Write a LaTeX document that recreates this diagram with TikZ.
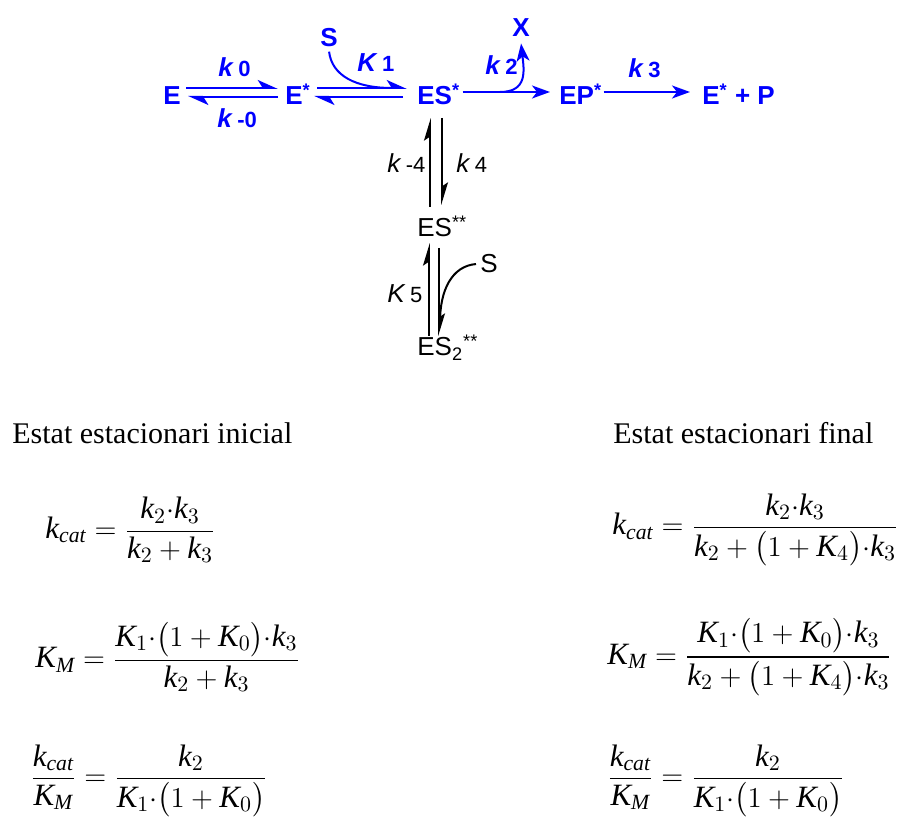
\documentclass[tikz,border=0pt]{standalone}
\usepackage{amsmath}
\usepackage{fontspec}
\setmainfont{Liberation Serif}
\setsansfont{Liberation Sans}
\usepackage{tikz}
\usetikzlibrary{arrows.meta,positioning,calc}
\definecolor{rxnblue}{RGB}{0,0,255}
\newcommand{\vk}{\textit{k}}
\newcommand{\vK}{\textit{K}}
\newcommand{\cat}{\textit{cat}}
\newcommand{\dt}{{\cdot}}
\newcommand{\sml}[1]{{\fontsize{11}{13}\selectfont #1}}

\begin{document}
\begin{tikzpicture}[
  x=0.5pt, y=-0.5pt,
  font=\sffamily\fontsize{13}{15}\selectfont,
  sp/.style={anchor=base west, inner sep=0pt},
  blu/.style={text=rxnblue, font=\sffamily\bfseries\fontsize{13}{15}\selectfont},
  bharp/.style={-{Stealth[harpoon,length=9pt,width=8pt,inset=2.5pt]}},
  kharp/.style={-{Stealth[harpoon,length=10pt,width=6pt,inset=2pt]}},
  full/.style={-{Stealth[length=9pt,width=6.5pt,inset=2.5pt]}},
  bline/.style={draw=rxnblue, line width=1pt},
  kline/.style={draw=black, line width=0.8pt},
  eq/.style={anchor=west, inner sep=0pt, font=\rmfamily\fontsize{15.5}{19}\selectfont},
  ttl/.style={anchor=base west, inner sep=0pt, font=\rmfamily\fontsize{15}{18}\selectfont}
]
\useasboundingbox (0,0) rectangle (901,823);

% reaction scheme, top row
\node[blu, sp] (E) at (163,105) {E};
\node[blu, sp] (Es) at (285,105) {E\textsuperscript{*}};
\node[blu, sp] (ESs) at (417,105) {ES\textsuperscript{*}};
\node[blu, sp] (EPs) at (559,105) {EP\textsuperscript{*}};
\node[blu, sp] (EsP) at (702,105) {E\textsuperscript{*} + P};
\node[blu, sp] (S1) at (320,47) {S};
\node[blu, sp] (X) at (512,37) {X};

\node[blu, sp] (k0) at (218,77) {\textit{k}\,\sml{0}};
\node[blu, sp] (km0) at (217,128) {\textit{k}\,\sml{-0}};
\node[blu, sp] (K1) at (357,72) {\textit{K}\,\sml{1}};
\node[blu, sp] (k2) at (485,75) {\textit{k}\,\sml{2}};
\node[blu, sp] (k3) at (628,78) {\textit{k}\,\sml{3}};

\coordinate (m1) at (392,88);
\coordinate (b2) at (500,92);

\draw[bline, bharp, shorten <=2.5pt, shorten >=3.5pt] ([yshift=8.5pt]E.base east) -- ([yshift=8.5pt]Es.base west);
\draw[bline, bharp, shorten <=3.5pt, shorten >=3.5pt] ([yshift=4pt]Es.base west) -- ([yshift=4pt]E.base east);
\draw[bline, bharp, shorten <=3pt, shorten >=5pt] ([yshift=8.5pt]Es.base east) -- ([yshift=8.5pt]ESs.base west);
\draw[bline, bharp, shorten <=7pt, shorten >=1.5pt] ([yshift=4pt]ESs.base west) -- ([yshift=4pt]Es.base east);
\draw[bline] ([yshift=-2pt]S1.south) .. controls (332,76) and (356,88) .. (m1);
\draw[bline, full, shorten <=1pt, shorten >=4.5pt] ([yshift=6.5pt]ESs.base east) -- ([yshift=6.5pt]EPs.base west);
\draw[bline, full, shorten <=0.5pt, shorten >=6pt] ([yshift=6.5pt]EPs.base east) -- ([yshift=6.5pt]EsP.base west);
\draw[bline, full] (b2) .. controls (528,92) and (524,70) .. ([yshift=-3pt]X.south);

% vertical branch
\node[sp] (ESss) at (417,237) {ES\textsuperscript{**}};
\node[sp] (ESSss) at (417,356) {ES\textsubscript{2}\textsuperscript{**}};
\node[sp] (S2) at (480,273) {S};
\node[sp] (km4) at (387,173) {\textit{k}\,\sml{-4}};
\node[sp] (k4) at (456,173) {\textit{k}\,\sml{4}};
\node[sp] (K5) at (387,303) {\textit{K}\,\sml{5}};

\coordinate (m2) at (440,322);

\draw[kline, kharp] ([xshift=6.5pt,yshift=15pt]ESss.base west) -- ([xshift=6.5pt,yshift=-6.5pt]ESs.base west);
\draw[kline, kharp] ([xshift=12.5pt,yshift=-6.5pt]ESs.base west) -- ([xshift=12.5pt,yshift=16pt]ESss.base west);
\draw[kline, kharp] ([xshift=6pt,yshift=10pt]ESSss.base west) -- ([xshift=6pt,yshift=-3pt]ESss.base west);
\draw[kline, kharp] ([xshift=11pt,yshift=-5.5pt]ESss.base west) -- ([xshift=11pt,yshift=10pt]ESSss.base west);
\draw[kline, line width=1pt] ([xshift=-2pt]S2.west) .. controls (452,266) and (440,290) .. (m2);

% rate expressions
\node[ttl] (ti) at (12,444) {Estat estacionari inicial};
\node[ttl] (tf) at (613,444) {Estat estacionari final};

\node[eq] (l1) at (45,530) {$\vk_{\cat} = \dfrac{\vk_2\dt\vk_3}{\vk_2+\vk_3}$};
\node[eq] (l2) at (35,657) {$\vK_{\textit{M}} = \dfrac{\vK_1\dt\bigl(1+\vK_0\bigr)\dt\vk_3}{\vk_2+\vk_3}$};
\node[eq] (l3) at (30,781) {$\dfrac{\vk_{\cat}}{\vK_{\textit{M}}} = \dfrac{\vk_2}{\vK_1\dt\bigl(1+\vK_0\bigr)}$};

\node[eq] (r1) at (612,530) {$\vk_{\cat} = \dfrac{\vk_2\dt\vk_3}{\vk_2+\bigl(1+\vK_4\bigr)\dt\vk_3}$};
\node[eq] (r2) at (607,657) {$\vK_{\textit{M}} = \dfrac{\vK_1\dt\bigl(1+\vK_0\bigr)\dt\vk_3}{\vk_2+\bigl(1+\vK_4\bigr)\dt\vk_3}$};
\node[eq] (r3) at (607,781) {$\dfrac{\vk_{\cat}}{\vK_{\textit{M}}} = \dfrac{\vk_2}{\vK_1\dt\bigl(1+\vK_0\bigr)}$};
\end{tikzpicture}
\end{document}
